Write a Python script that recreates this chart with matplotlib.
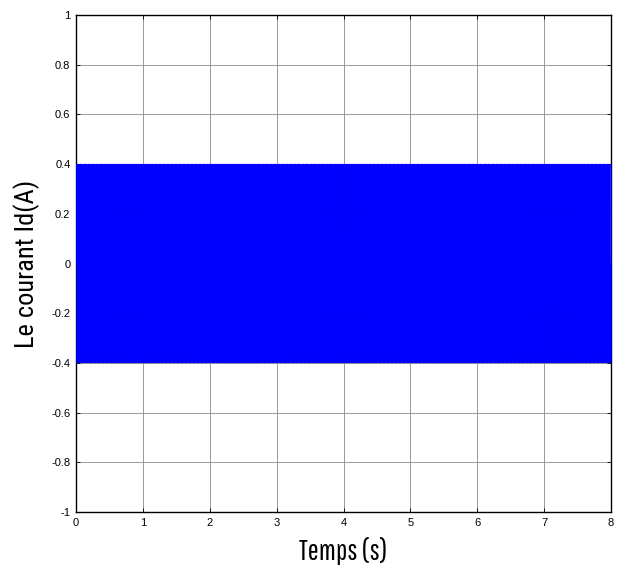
import numpy as np
import matplotlib
matplotlib.use("Agg")
import matplotlib.pyplot as plt

# Signal parameters (current id, sinusoidal)
amplitude = 0.4          # A
frequency = 50.0         # Hz
t_end = 8.0              # s
samples_per_cycle = 20

x_ticks = [0, 1, 2, 3, 4, 5, 6, 7, 8]
y_ticks = [-1, -0.8, -0.6, -0.4, -0.2, 0, 0.2, 0.4, 0.6, 0.8, 1]
y_tick_labels = ["-1", "-0.8", "-0.6", "-0.4", "-0.2", "0", "0.2", "0.4", "0.6", "0.8", "1"]

n = int(t_end * frequency * samples_per_cycle) + 1
t = np.linspace(0.0, t_end, n)
i_d = amplitude * np.sin(2 * np.pi * frequency * t)

fig = plt.figure(figsize=(6.27, 5.68), dpi=100)
ax = fig.add_axes([76 / 627, 56 / 568, 535 / 627, 497 / 568])

ax.plot(t, i_d, color=(0, 0, 1), linewidth=0.6, zorder=3)

ax.set_xlim(0, 8)
ax.set_ylim(-1, 1)
ax.set_xticks(x_ticks)
ax.set_xticklabels([str(v) for v in x_ticks])
ax.set_yticks(y_ticks)
ax.set_yticklabels(y_tick_labels)

ax.grid(True, color="#9a9a9a", linewidth=0.7, linestyle="-", zorder=1)
ax.set_axisbelow(True)
ax.tick_params(direction="in", length=3, width=0.6, top=True, right=True,
               labelsize=8, pad=4)
for lbl in ax.get_xticklabels() + ax.get_yticklabels():
    lbl.set_family(["Liberation Sans", "DejaVu Sans"])
for s in ax.spines.values():
    s.set_linewidth(1.0)

ax.set_xlabel("Temps (s)", labelpad=7,
              family=["Pathway Gothic One", "DejaVu Sans"], fontsize=21)
ax.set_ylabel("Le courant Id(A)", labelpad=8,
              family=["Roboto Condensed", "DejaVu Sans"], fontsize=19)

fig.savefig("out.png", dpi=100)
